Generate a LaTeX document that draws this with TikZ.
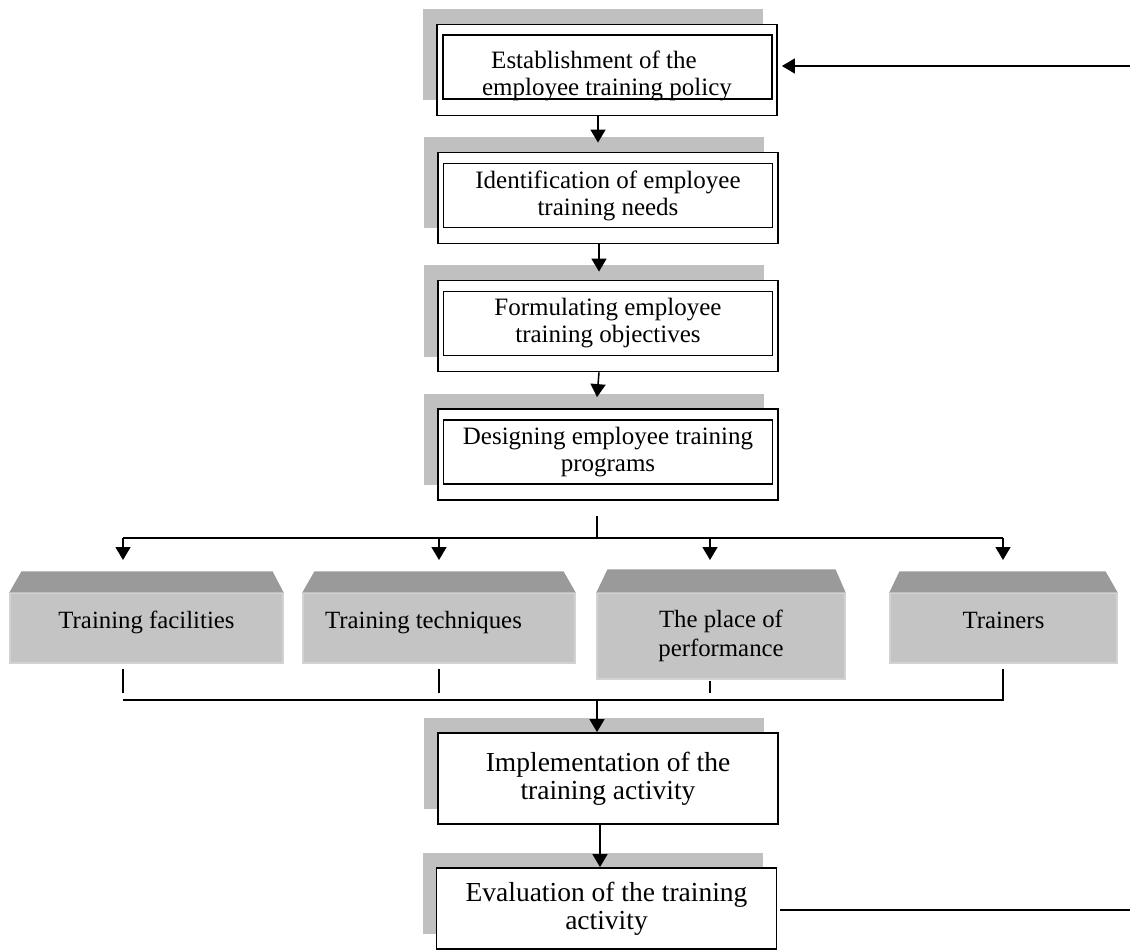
\documentclass[tikz,border=0pt]{standalone}
\usepackage{fontspec}
\setmainfont{Liberation Serif}
\usetikzlibrary{
  positioning,
  arrows.meta,
  calc,
  shadows
}
\definecolor{trShadow}{HTML}{C0C0C0}
\definecolor{trFront}{HTML}{C4C4C4}
\definecolor{trTop}{HTML}{9A9A9A}
\definecolor{trEdge}{HTML}{D2D2D2}

\begin{document}
\begin{tikzpicture}[
  x=0.5pt, y=-0.5pt,
  every node/.style={align=center, inner sep=0pt},
  stage/.style={
    rectangle, draw, fill=white, line width=0.9pt,
    minimum width=170pt, minimum height=45.5pt,
    general shadow={fill=trShadow, shadow xshift=-7pt, shadow yshift=7.5pt}
  },
  frame/.style={
    rectangle, draw, line width=0.9pt,
    minimum width=164.5pt, minimum height=32pt,
    font=\fontsize{12.5pt}{13.5pt}\selectfont
  },
  act/.style={
    rectangle, draw, fill=white, line width=0.9pt,
    minimum width=170pt, minimum height=45.5pt,
    font=\fontsize{13.75pt}{14pt}\selectfont,
    general shadow={fill=trShadow, shadow xshift=-7pt, shadow yshift=7.5pt}
  },
  unit/.style={
    rectangle, fill=trFront, draw=trEdge, line width=0.6pt,
    minimum height=35pt,
    font=\fontsize{12.4pt}{14.5pt}\selectfont
  },
  oneline/.style={text height=9pt, text depth=9pt},
  topface/.style={fill=trTop},
  wire/.style={line width=0.75pt},
  arrow/.style={-{Triangle[length=6.5pt, width=7.5pt]}, line width=0.75pt}
]
 \useasboundingbox (0,0) rectangle (1130,952);

 % Policy / needs / objectives / programs
 \node[stage] (p1) at (607,70) {};
 \node[frame] (p1f) at (607.5,67) {};
 \node[font=\fontsize{12.5pt}{13.5pt}\selectfont] (p1t) at (607,76)
  {Establishment of the\hspace*{13pt}\\employee training policy};
 \node[stage] (p2) at (608,198) {};
 \node[frame] (p2f) at (608,195.5) {Identification of employee\\training needs};
 \node[stage] (p3) at (608,326) {};
 \node[frame] (p3f) at (608,323.5) {Formulating employee\\training objectives};
 \node[stage] (p4) at (608,454.5) {};
 \node[frame] (p4f) at (608,452) {Designing employee training\\programs};

 \draw[arrow] ($(p1.south)+(-9,0)$) -- ($(p2.north)+(-10,-9)$);
 \draw[arrow] ($(p2.south)+(-9,0)$) -- ($(p3.north)+(-9,-8)$);
 \draw[arrow] ($(p3.south)+(-9,0)$) -- ($(p4.north)+(-11,-11)$);

 % Resources of the programme (grey blocks)
 \node[unit, oneline, minimum width=136.5pt] (fac) at (146.5,628) {Training facilities};
 \node[unit, oneline, minimum width=136pt] (tech) at (439,628) {Training techniques\hspace*{15.5pt}};
 \node[unit, minimum width=124pt, minimum height=43pt] (place) at (721,636) {The place of\\performance};
 \node[unit, oneline, minimum width=113.5pt] (trn) at (1003.5,628) {Trainers};

 \fill[topface] (fac.north west) -- ($(fac.north west)+(12,-21)$)
  -- ($(fac.north east)+(-11,-21)$) -- (fac.north east) -- cycle;
 \fill[topface] (tech.north west) -- ($(tech.north west)+(12,-21)$)
  -- ($(tech.north east)+(-12,-21)$) -- (tech.north east) -- cycle;
 \fill[topface] (place.north west) -- ($(place.north west)+(11,-23)$)
  -- ($(place.north east)+(-10,-23)$) -- (place.north east) -- cycle;
 \fill[topface] (trn.north west) -- ($(trn.north west)+(10,-21)$)
  -- ($(trn.north east)+(-12,-21)$) -- (trn.north east) -- cycle;

 % Split from the programs box
 \coordinate (stem) at (597,516);
 \coordinate (split) at (597,538);
 \coordinate (d1) at (123,538);
 \coordinate (d2) at (439,538);
 \coordinate (d3) at (710,538);
 \coordinate (d4) at (1003,538);

 \draw[wire] (stem) -- (split);
 \draw[wire] (d1) -- (d4);
 \draw[arrow] (d1) -- ++(0,22);
 \draw[arrow] (d2) -- ++(0,22);
 \draw[arrow] (d3) -- ++(0,22);
 \draw[arrow] (d4) -- ++(0,22);

 % Join towards implementation
 \coordinate (join) at (597,700);
 \draw[wire] ($(d1 |- fac.south)+(0,5)$) -- ++(0,24);
 \draw[wire] ($(d2 |- tech.south)+(0,5)$) -- ++(0,24);
 \draw[wire] ($(d3 |- place.south)+(0,1)$) -- ++(0,12);
 \draw[wire] ($(d4 |- trn.south)+(0,5)$) |- (d1 |- join);

 \node[act] (impl) at (608,778.5) {Implementation of the\\training activity};
 \node[act, minimum height=40.5pt] (eval) at (606.5,908.5) {Evaluation of the training\\activity};

 \draw[arrow] (join) -- (join |- impl.north);
 \draw[arrow] ($(impl.south)+(-8,0)$) -- ($(eval.north)+(-6.5,0)$);

 % Feedback to the policy
 \coordinate (fbBot) at (1130,910);
 \coordinate (fbTop) at (1130,66);
 \draw[wire] ($(eval.east)+(3,1.5)$) -- (fbBot);
 \draw[arrow] (fbTop) -- ($(p1.east)+(4,-4)$);
\end{tikzpicture}
\end{document}
